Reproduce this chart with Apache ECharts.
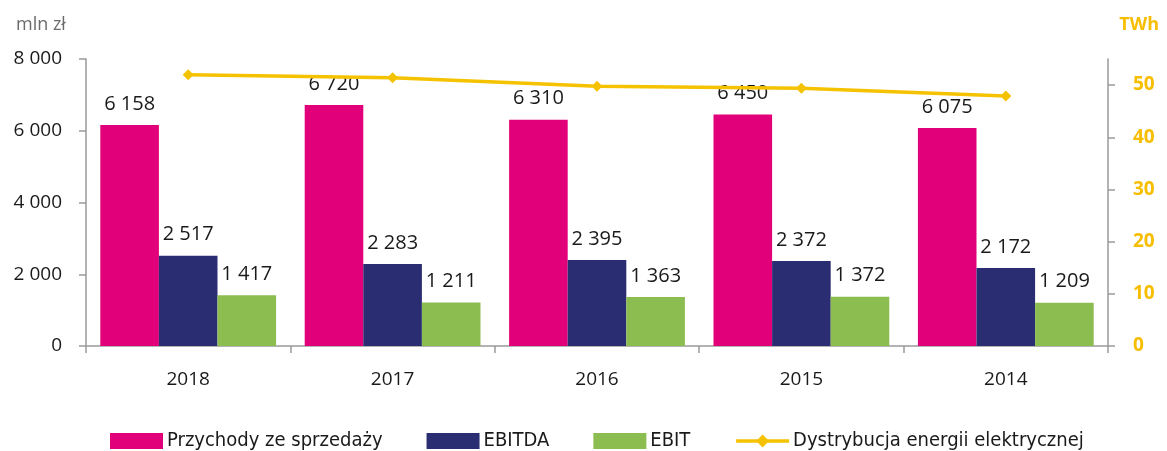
<!DOCTYPE html>
<html>
<head>
<meta charset="utf-8">
<script src="https://cdn.jsdelivr.net/npm/echarts@6/dist/echarts.min.js"></script>
<style>
  html, body { margin: 0; padding: 0; background: #fff; }
  #chart { width: 1167px; height: 451px; }
</style>
</head>
<body>
<div id="chart"></div>
<script>
// Wyniki finansowe i wolumen dystrybucji, lata 2018–2014
const years = ['2018', '2017', '2016', '2015', '2014'];
const przychody = [6158, 6720, 6310, 6450, 6075];
const ebitda = [2517, 2283, 2395, 2372, 2172];
const ebit = [1417, 1211, 1363, 1372, 1209];
const dystrybucja = [52.0, 51.4, 49.8, 49.4, 47.9];
const twhTicks = [0, 10, 20, 30, 40, 50];

const FONT = '"Open Sans", "Noto Sans", sans-serif';
const NARROW = '"DejaVu Sans Condensed", "Liberation Sans Narrow", "Open Sans", sans-serif';
const AXIS_GREY = '#9a9a9a';
const YELLOW = '#F5C200';

// 6158 -> "6 158"
const fmt = v => String(Math.round(v)).replace(/\B(?=(\d{3})+(?!\d))/g, ' ');

const barLabel = {
  show: true,
  position: 'top',
  distance: 11,
  color: '#1a1a1a',
  fontFamily: FONT,
  fontSize: 20,
  formatter: p => fmt(p.value)
};

const chart = echarts.init(document.getElementById('chart'), null, { renderer: 'canvas' });
chart.setOption({
  animation: false,
  backgroundColor: '#fff',
  title: [
    { text: 'mln zł', left: 11, top: 11, textStyle: { color: '#6b6b6b', fontFamily: FONT, fontSize: 18, fontWeight: 'normal' } },
    { text: 'TWh', right: 3, top: 11, textStyle: { color: '#F7BE00', fontFamily: FONT, fontSize: 18, fontWeight: 'bold' } }
  ],
  grid: { left: 86, right: 59, top: 59, bottom: 105 },
  legend: {
    top: 426,
    left: 105,
    itemWidth: 53,
    itemHeight: 16,
    itemGap: 44,
    lineStyle: { width: 3.5 },
    textStyle: { fontFamily: NARROW, fontSize: 20, color: '#1a1a1a', padding: [0, 0, 0, -1] },
    data: [
      { name: 'Przychody ze sprzedaży', icon: 'rect' },
      { name: 'EBITDA', icon: 'rect' },
      { name: 'EBIT', icon: 'rect' },
      { name: 'Dystrybucja energii elektrycznej' }
    ]
  },
  xAxis: {
    type: 'category',
    data: years,
    axisLine: { lineStyle: { color: AXIS_GREY, width: 1.5 } },
    axisTick: { show: true, length: 7, lineStyle: { color: AXIS_GREY, width: 1.5 } },
    axisLabel: { color: '#1a1a1a', fontFamily: FONT, fontSize: 19, margin: 24 }
  },
  yAxis: [
    {
      type: 'value',
      min: 0,
      max: 8000,
      interval: 2000,
      axisLine: { show: true, lineStyle: { color: AXIS_GREY, width: 1.5 } },
      axisTick: { show: true, length: 7, lineStyle: { color: AXIS_GREY, width: 1.5 } },
      splitLine: { show: false },
      axisLabel: { color: '#1a1a1a', fontFamily: FONT, fontSize: 19, margin: 24, formatter: v => fmt(v) }
    },
    {
      type: 'value',
      min: 0,
      max: 55,
      position: 'right',
      axisLine: { show: true, lineStyle: { color: AXIS_GREY, width: 1.5 } },
      axisTick: { show: true, length: 7, customValues: twhTicks, lineStyle: { color: AXIS_GREY, width: 1.5 } },
      splitLine: { show: false },
      axisLabel: { color: '#F7BE00', fontFamily: FONT, fontSize: 19, fontWeight: 'bold', margin: 25, customValues: twhTicks }
    }
  ],
  series: [
    {
      name: 'Przychody ze sprzedaży', type: 'bar', data: przychody,
      barGap: '0%', barCategoryGap: '14%',
      itemStyle: { color: '#E2007A' }, label: barLabel
    },
    {
      name: 'EBITDA', type: 'bar', data: ebitda,
      itemStyle: { color: '#2A2D72' }, label: barLabel
    },
    {
      name: 'EBIT', type: 'bar', data: ebit,
      itemStyle: { color: '#8CBD50' }, label: barLabel
    },
    {
      name: 'Dystrybucja energii elektrycznej', type: 'line', yAxisIndex: 1, data: dystrybucja,
      symbol: 'diamond', symbolSize: 11,
      lineStyle: { color: YELLOW, width: 3.5 },
      itemStyle: { color: YELLOW }
    }
  ]
});
</script>
</body>
</html>
